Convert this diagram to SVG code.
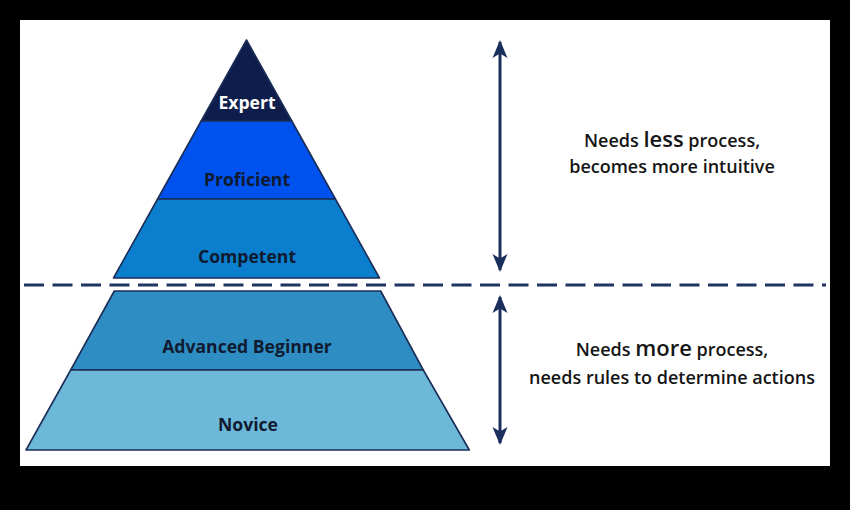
<svg xmlns="http://www.w3.org/2000/svg" width="850" height="510" viewBox="0 0 850 510">
<defs>
<style>
.band{stroke:#1b2d57;stroke-width:1.6;stroke-linejoin:round}
.lbl{font-family:"Open Sans","Liberation Sans",sans-serif;font-weight:700;font-size:17.6px;fill:#101a30;text-anchor:middle}
.note{font-family:"Open Sans","Liberation Sans",sans-serif;font-weight:600;font-size:18px;fill:#151515;text-anchor:middle}
.big{font-size:22px}
.arr{stroke:#1b2f5e;stroke-width:3;fill:none}
.dash{stroke:#1f3561;stroke-width:3;stroke-dasharray:20 8.5;fill:none}
</style>
<marker id="ah" viewBox="0 0 18 18" refX="16" refY="9" markerWidth="18" markerHeight="18" markerUnits="userSpaceOnUse" orient="auto-start-reverse">
<path d="M0,1.5 L18,9 L0,16.5 L4.5,9 Z" fill="#1b2f5e"/>
</marker>
</defs>
<rect x="0" y="0" width="850" height="510" fill="#000"/>
<rect x="20" y="20" width="810" height="446" fill="#fff"/>

<g id="expert">
<polygon class="band" points="246.5,40 291.8,121 201.2,121" fill="#0f1d4c"/>
<text class="lbl" x="247" y="109" style="fill:#fff">Expert</text>
</g>
<g id="proficient">
<polygon class="band" points="201.2,121 291.8,121 335.4,199 157.6,199" fill="#0052ee"/>
<text class="lbl" x="247" y="186">Proficient</text>
</g>
<g id="competent">
<polygon class="band" points="157.6,199 335.4,199 379.5,278 113.5,278" fill="#0b7fcd"/>
<text class="lbl" x="247" y="263">Competent</text>
</g>
<g id="advanced-beginner">
<polygon class="band" points="114.3,291 380.7,291 423.3,370 70.7,370" fill="#2e8ec3"/>
<text class="lbl" x="247" y="353">Advanced Beginner</text>
</g>
<g id="novice">
<polygon class="band" points="70.7,370 423.3,370 469.3,450 26,450" fill="#6cb8d9"/>
<text class="lbl" x="248" y="431">Novice</text>
</g>

<g id="connectors">
<line class="dash" x1="24" y1="285" x2="826" y2="285"/>
<line class="arr" x1="500" y1="42" x2="500" y2="270" marker-start="url(#ah)" marker-end="url(#ah)"/>
<line class="arr" x1="500" y1="297" x2="500" y2="443" marker-start="url(#ah)" marker-end="url(#ah)"/>
</g>

<g id="note-upper">
<text class="note" x="672" y="147">Needs <tspan class="big">less</tspan> process,</text>
<text class="note" x="672" y="173">becomes more intuitive</text>
</g>
<g id="note-lower">
<text class="note" x="672" y="356">Needs <tspan class="big">more</tspan> process,</text>
<text class="note" x="672" y="384">needs rules to determine actions</text>
</g>
</svg>
